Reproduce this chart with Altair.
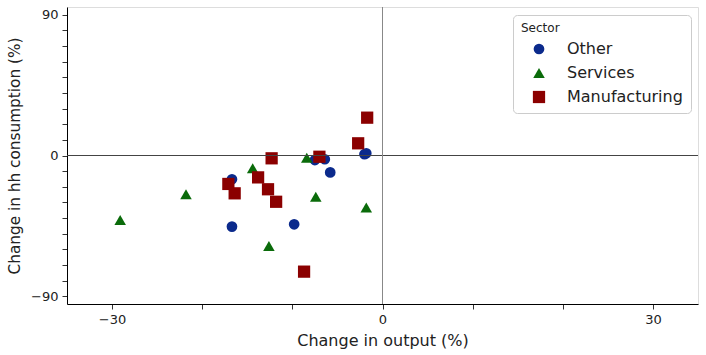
import altair as alt
import pandas as pd

other_x = [-16.7, -16.7, -9.8, -7.5, -6.4, -5.8, -2.0, -1.8]
other_y = [-15.2, -45.5, -44.0, -2.9, -2.4, -10.8, 0.8, 1.4]
services_x = [-29.1, -21.8, -14.4, -12.6, -8.4, -7.4, -1.8]
services_y = [-41.3, -24.8, -8.2, -57.9, -1.4, -26.4, -33.2]
manuf_x = [-12.3, -17.1, -16.4, -13.8, -12.7, -11.8, -8.7, -7.0, -2.7, -1.7]
manuf_y = [-1.8, -18.2, -24.2, -14.0, -21.6, -29.6, -74.3, -0.8, 7.8, 24.2]

sectors = ["Other", "Services", "Manufacturing"]
colors = ["#0b2a8c", "#0a6b0a", "#8b0000"]
shapes = ["circle", "triangle-up", "square"]
sizes = [115, 150, 120]

rows = []
for s, xs, ys in zip(sectors, [other_x, services_x, manuf_x], [other_y, services_y, manuf_y]):
    for a, b in zip(xs, ys):
        rows.append({"sector": s, "x": a, "y": b, "order": sectors.index(s)})
df = pd.DataFrame(rows)

x_ticks = [-30, -20, -10, 0, 10, 20, 30]
y_ticks = [-90, -80, -70, -60, -50, -40, -30, -20, -10, 0, 10, 20, 30, 40, 50, 60, 70, 80, 90]

font = "DejaVu Sans"

xscale = alt.Scale(domain=[-35, 35], nice=False, zero=False)
yscale = alt.Scale(domain=[-95, 95], nice=False, zero=False)

common_axis = dict(grid=False, tickColor="#333", domainColor="#000", tickSize=5, labelOverlap=False,
                   labelFont=font, labelFontSize=13, labelColor="#222", labelPadding=4,
                   titleFont=font, titleFontWeight="normal", titleColor="#222")

x_axis = alt.Axis(values=x_ticks,
                  labelExpr="(datum.value == 0 || abs(datum.value) == 30) ? replace(format(datum.value, 'd'), '-', '\u2212') : ''",
                  titlePadding=6, titleFontSize=16, **common_axis)
y_axis = alt.Axis(values=y_ticks,
                  labelExpr="(datum.value == 0 || abs(datum.value) == 90) ? replace(format(datum.value, 'd'), '-', '\u2212') : ''",
                  titlePadding=8, titleFontSize=15.3, **common_axis)

x_title = "Change in output (%)"
y_title = "Change in hh consumption (%)"

points = alt.Chart(df).mark_point(filled=True, opacity=1).encode(
    x=alt.X("x:Q", scale=xscale, title=x_title, axis=x_axis),
    y=alt.Y("y:Q", scale=yscale, title=y_title, axis=y_axis),
    color=alt.Color("sector:N", scale=alt.Scale(domain=sectors, range=colors),
                    legend=alt.Legend(title="Sector", orient="none", legendX=446, legendY=8,
                                      titleFont=font, titleFontSize=12, titleFontWeight="normal", titleColor="#222",
                                      labelFont=font, labelFontSize=16, labelColor="#222",
                                      symbolSize=110, rowPadding=8, labelOffset=20,
                                      padding=8, strokeColor="#ccc", cornerRadius=4, fillColor="white",
                                      titlePadding=6, symbolOffset=10)),
    shape=alt.Shape("sector:N", scale=alt.Scale(domain=sectors, range=shapes)),
    size=alt.Size("sector:N", scale=alt.Scale(domain=sectors, range=sizes), legend=None),
    order=alt.Order("order:Q"),
)

hline = alt.Chart(pd.DataFrame({"y": [0]})).mark_rule(color="#444", strokeWidth=1).encode(
    y=alt.Y("y:Q", scale=yscale, title=y_title, axis=y_axis))
vline = alt.Chart(pd.DataFrame({"x": [0]})).mark_rule(color="#888", strokeWidth=1).encode(
    x=alt.X("x:Q", scale=xscale, title=x_title, axis=x_axis))

chart = alt.layer(points, hline, vline).properties(
    width=631, height=297,
    padding={"left": 67, "top": 7, "right": 8, "bottom": 51},
    autosize=alt.AutoSizeParams(type="none"),
).configure_view(stroke="#000", strokeWidth=1).configure(background="white")

chart.save("out.html", embed_options={"renderer": "svg", "actions": False})
